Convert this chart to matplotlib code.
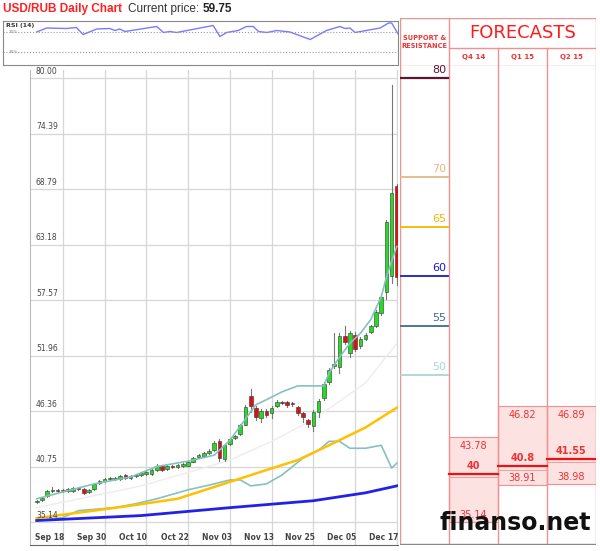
import matplotlib
matplotlib.use('Agg')
import matplotlib.pyplot as plt
from matplotlib.patches import Rectangle

W, H = 600, 551

# --- candles (trading days from Sep 15) ---
opens = [37.2, 37.4, 37.8, 38.3, 38.35, 38.3, 38.3, 38.3, 38.6, 38.5,
         38.2, 38.5, 39.1, 39.3, 39.5, 39.5, 39.5, 39.9, 39.6, 39.8,
         39.9, 40.0, 40.0, 40.4, 40.85, 40.5, 40.8, 40.75, 40.8, 40.85,
         41.25, 41.7, 41.8, 42.1, 42.4, 43.3, 41.5, 43.0, 43.6, 44.0,
         45.0, 47.9, 46.7, 45.7, 46.4, 46.2, 46.9, 47.3, 47.3, 47.2,
         46.8, 46.2, 45.5, 44.8, 46.3, 47.7, 49.3, 50.9, 50.8, 53.9,
         52.2, 54.0, 52.9, 53.6, 54.3, 54.9, 56.3, 58.4, 60.0, 69.1]
closes = [37.3, 37.6, 38.3, 38.35, 38.3, 38.4, 38.5, 38.6, 38.5, 38.1,
          38.4, 39.0, 39.3, 39.5, 39.55, 39.55, 39.8, 39.6, 39.8, 39.9,
          40.1, 40.2, 40.4, 40.85, 40.4, 40.8, 40.75, 40.9, 41.0, 41.25,
          41.6, 41.9, 42.1, 42.35, 43.1, 41.6, 42.9, 43.5, 43.8, 45.0,
          46.8, 46.9, 45.8, 46.4, 46.0, 46.7, 47.3, 47.2, 47.0, 47.1,
          46.2, 45.8, 45.1, 46.3, 47.4, 49.1, 50.5, 51.1, 53.9, 53.3,
          54.2, 52.6, 53.6, 54.0, 54.9, 56.4, 57.9, 65.5, 68.4, 59.9]
highs = [37.4, 37.7, 38.4, 38.7, 38.5, 38.5, 38.6, 38.7, 38.7, 38.6,
         38.5, 39.1, 39.4, 39.6, 39.7, 39.7, 39.9, 40.0, 39.9, 40.0,
         40.2, 40.3, 40.5, 41.0, 40.95, 40.9, 40.9, 41.0, 41.1, 41.35,
         41.7, 42.0, 42.2, 42.5, 43.3, 43.5, 43.0, 43.6, 43.9, 45.1,
         47.0, 48.6, 46.9, 46.6, 46.6, 46.9, 47.5, 47.4, 47.4, 47.3,
         46.9, 46.3, 45.6, 46.5, 47.6, 49.3, 50.7, 54.2, 54.2, 55.0,
         54.4, 54.3, 53.8, 54.2, 55.1, 56.6, 58.2, 65.7, 79.3, 69.3]
lows = [37.1, 37.3, 37.7, 38.2, 38.2, 38.2, 38.2, 38.2, 38.4, 38.0,
        38.1, 38.4, 39.0, 39.2, 39.4, 39.4, 39.4, 39.5, 39.5, 39.7,
        39.8, 39.9, 39.9, 40.3, 40.3, 40.4, 40.6, 40.6, 40.7, 40.8,
        41.2, 41.6, 41.7, 42.0, 42.3, 41.3, 41.3, 42.9, 43.5, 43.9,
        44.9, 46.3, 45.5, 45.3, 45.8, 45.7, 46.8, 47.1, 46.8, 46.9,
        46.0, 45.3, 44.7, 44.3, 45.8, 47.5, 49.1, 50.7, 50.2, 53.1,
        51.8, 52.4, 52.7, 53.5, 54.2, 54.8, 56.1, 57.7, 59.3, 59.1]

# --- moving averages / bands (index, value) ---
band_hi_x = [0, 11, 18, 23, 29, 34, 37, 42, 44, 47, 50, 55, 56, 58, 60, 62, 64, 66, 67, 68, 69]
band_hi_y = [37.5, 39.0, 39.7, 40.75, 41.3, 41.9, 43.4, 47.0, 47.5, 48.3, 48.9, 48.9, 50.2, 51.8,
             53.2, 54.2, 55.6, 57.9, 59.9, 61.5, 63.0]
band_lo_x = [0, 5, 8, 15, 19, 23, 29, 34, 37, 39, 41, 44, 47, 51, 54, 56, 58, 60, 63, 66, 68, 69]
band_lo_y = [35.3, 35.6, 36.3, 36.6, 37.0, 37.5, 38.4, 39.0, 39.4, 39.4, 38.8, 39.0, 39.9, 41.6,
             42.4, 43.3, 43.3, 42.6, 42.6, 42.9, 40.6, 41.1]
ma_gray_x = [0, 20, 30, 37, 45, 53, 63, 69]
ma_gray_y = [36.6, 38.8, 40.3, 41.4, 43.3, 45.5, 49.2, 53.2]
ma_yel_x = [0, 11, 18, 27, 37, 44, 50, 56, 63, 69]
ma_yel_y = [35.55, 36.3, 36.8, 37.5, 39.2, 40.4, 41.4, 42.9, 44.7, 46.7]
ma_blue_x = [0, 20, 37, 53, 63, 69]
ma_blue_y = [35.3, 35.8, 36.6, 37.3, 38.1, 38.8]

# --- RSI ---
rsi_x = [0, 1.9, 5.7, 7.6, 8.9, 11.5, 14.0, 15.0, 15.9, 16.9, 23.0, 24.3, 25.5, 26.8, 33.8,
         35.1, 36.4, 38.6, 40.2, 41.5, 42.5, 44.1, 46.0, 48.5, 52.4, 55.5, 58.1, 59.1, 60.0,
         61.0, 65.8, 67.4, 68.0, 69.3]
rsi_y = [70, 78, 77, 79, 65, 76, 77, 73, 76, 71, 81, 69, 71, 69, 83,
         61, 69, 73, 81, 81, 71, 69, 73, 70, 55, 73, 81, 77, 78,
         69, 78, 88, 88, 65]

price_ticks = [80.00, 74.39, 68.79, 63.18, 57.57, 51.96, 46.36, 40.75, 35.14]
date_labels = ['Sep 18', 'Sep 30', 'Oct 10', 'Oct 22', 'Nov 03', 'Nov 13', 'Nov 25', 'Dec 05', 'Dec 17']

sr_levels = [80, 70, 65, 60, 55, 50]
sr_colors = ['#5b1530', '#e8b880', '#f5b800', '#1a1acc', '#3c6e8c', '#a9d6d6']

quarters = ['Q4 14', 'Q1 15', 'Q2 15']
fc_high = [43.78, 46.82, 46.89]
fc_mid = [40, 40.8, 41.55]
fc_low = [35.14, 38.91, 38.98]
fc_mid_txt = ['40', '40.8', '41.55']

PX_PER = 9.9  # pixels per rouble, y=78 -> 80


def rect(x0, y0, x1, y1):
    return [x0 / W, 1 - y1 / H, (x1 - x0) / W, (y1 - y0) / H]


def yval(py):
    return 80 - (py - 78) / PX_PER


def idx(px):
    return (px - 36.7) / 5.22


fig = plt.figure(figsize=(W / 100, H / 100), dpi=100)
RED = '#ee3333'
LRED = '#f29090'

# title
TF = 'Liberation Sans'
fig.text(3 / W, 1 - 9 / H, 'USD/RUB Daily Chart', color='#ff2020', fontsize=8.5,
         fontweight='bold', va='center', family=TF)
fig.text(128 / W, 1 - 9 / H, 'Current price:', color='#333333', fontsize=8.5, va='center', family=TF)
fig.text(203 / W, 1 - 9 / H, '59.75', color='#222222', fontsize=8.5, fontweight='bold',
         va='center', family=TF)

# RSI panel
ar = fig.add_axes(rect(3, 21, 398, 65))
ar.set_xlim(idx(3), idx(398))
ar.set_ylim(4, 92)
ar.plot(rsi_x, rsi_y, color='#7a7aff', lw=1)
for lv in (70, 30):
    ar.axhline(lv, color='#999999', ls=':', lw=0.8)
    ar.text(idx(9), lv, f'{lv}%', fontsize=3, color='#888888', va='center')
ar.text(idx(6), 84, 'RSI (14)', fontsize=4.5, fontweight='bold', color='#333333', va='center')
ar.set_xticks([])
ar.set_yticks([])
for s in ar.spines.values():
    s.set_color('#888888')
    s.set_linewidth(0.8)

# main chart
ax = fig.add_axes(rect(30, 70, 398, 545))
ax.set_xlim(idx(30), idx(398))
ax.set_ylim(yval(545), yval(70))
for v in price_ticks:
    ax.axhline(v, color='#d6d6d6', lw=0.9, zorder=0)
    ax.text(idx(36), v + 0.25, f'{v:.2f}', fontsize=5.5, color='#444444', va='bottom')
for k in range(9):
    ax.axvline(5 + 8 * k, color='#d6d6d6', lw=0.9, zorder=0)
    ax.text(2.5 + 8 * k, yval(537), date_labels[k], fontsize=5.5, fontweight='bold',
            color='#444444', ha='center', va='center')

ax.plot(ma_gray_x, ma_gray_y, color='#ededed', lw=1, zorder=1)
ax.plot(band_lo_x, band_lo_y, color='#86c0c0', lw=1.2, zorder=1)
ax.plot(ma_yel_x, ma_yel_y, color='#ffc000', lw=1.8, zorder=1)
ax.plot(ma_blue_x, ma_blue_y, color='#2222e6', lw=2, zorder=1)

for i, (o, c, h, l) in enumerate(zip(opens, closes, highs, lows)):
    col = '#22dd22' if c >= o else '#dd1111'
    ax.plot([i, i], [l, h], color='#777777', lw=0.8, zorder=2)
    ax.add_patch(Rectangle((i - 0.35, min(o, c)), 0.7, max(abs(c - o), 0.08),
                           facecolor=col, edgecolor='#333333', lw=0.4, zorder=3))
ax.plot(band_hi_x, band_hi_y, color='#86c0c0', lw=1.2, zorder=4)

ax.set_xticks([])
ax.set_yticks([])
for side in ('top', 'right'):
    ax.spines[side].set_visible(False)
ax.spines['left'].set_color('#bbbbbb')
ax.spines['bottom'].set_color('#666666')

# right header
ah = fig.add_axes(rect(400, 18, 596, 66))
ah.set_xlim(400, 596)
ah.set_ylim(66, 18)
ah.axis('off')
ah.plot([400, 596, 596, 400, 400], [18, 18, 66, 66, 18], color=LRED, lw=1)
ah.plot([449, 449], [18, 66], color=LRED, lw=1)
ah.plot([449, 596], [48, 48], color=LRED, lw=1)
ah.plot([498, 498], [48, 66], color=LRED, lw=1)
ah.plot([547, 547], [48, 66], color=LRED, lw=1)
ah.text(424.5, 42, 'SUPPORT &\nRESISTANCE', fontsize=4.8, fontweight='bold', color=RED,
        ha='center', va='center', linespacing=1.4)
ah.text(522.5, 33, 'FORECASTS', fontsize=13, color='#ff1a1a', ha='center', va='center')
for k, q in enumerate(quarters):
    ah.text(473.5 + 49 * k, 57, q, fontsize=5, fontweight='bold', color=RED,
            ha='center', va='center')

# right body
ab = fig.add_axes(rect(400, 66, 596, 545))
ab.set_xlim(400, 596)
ab.set_ylim(yval(545), yval(66))
ab.axis('off')
for xv in (400, 449, 498, 547, 596):
    ab.axvline(xv, color=LRED, lw=1)
for lv, col in zip(sr_levels, sr_colors):
    ab.plot([401, 448], [lv, lv], color=col, lw=1.6 if lv == 80 else 1.3)
    ab.text(446, lv + 0.3, str(lv), fontsize=8, color=col, ha='right', va='bottom')
for k in range(3):
    x0 = 449 + 49 * k
    ab.add_patch(Rectangle((x0, fc_low[k]), 49, fc_high[k] - fc_low[k],
                           facecolor='#fde2e2', edgecolor=LRED, lw=0.8))
    ab.plot([x0, x0 + 49], [fc_mid[k], fc_mid[k]], color='#ee1111', lw=1.6)
    ab.plot([x0, x0 + 49], [fc_mid[k] - 0.35, fc_mid[k] - 0.35], color=LRED, lw=0.6)
    cx = x0 + 24.5
    ab.text(cx, fc_high[k] - 0.4, f'{fc_high[k]:.2f}', fontsize=7, color=RED, ha='center', va='top')
    ab.text(cx, fc_mid[k] + 0.3, fc_mid_txt[k], fontsize=7, fontweight='bold', color=RED,
            ha='center', va='bottom')
    ab.text(cx, fc_low[k] + 0.2, f'{fc_low[k]:.2f}', fontsize=7, color=RED, ha='center', va='bottom')
ab.plot([400, 596], [yval(544), yval(544)], color='#888888', lw=1)

fig.text(515 / W, 1 - 523 / H, 'finanso.net', fontsize=17, fontweight='bold', color='#111111',
         ha='center', va='center')

fig.savefig('out.png', dpi=100)
